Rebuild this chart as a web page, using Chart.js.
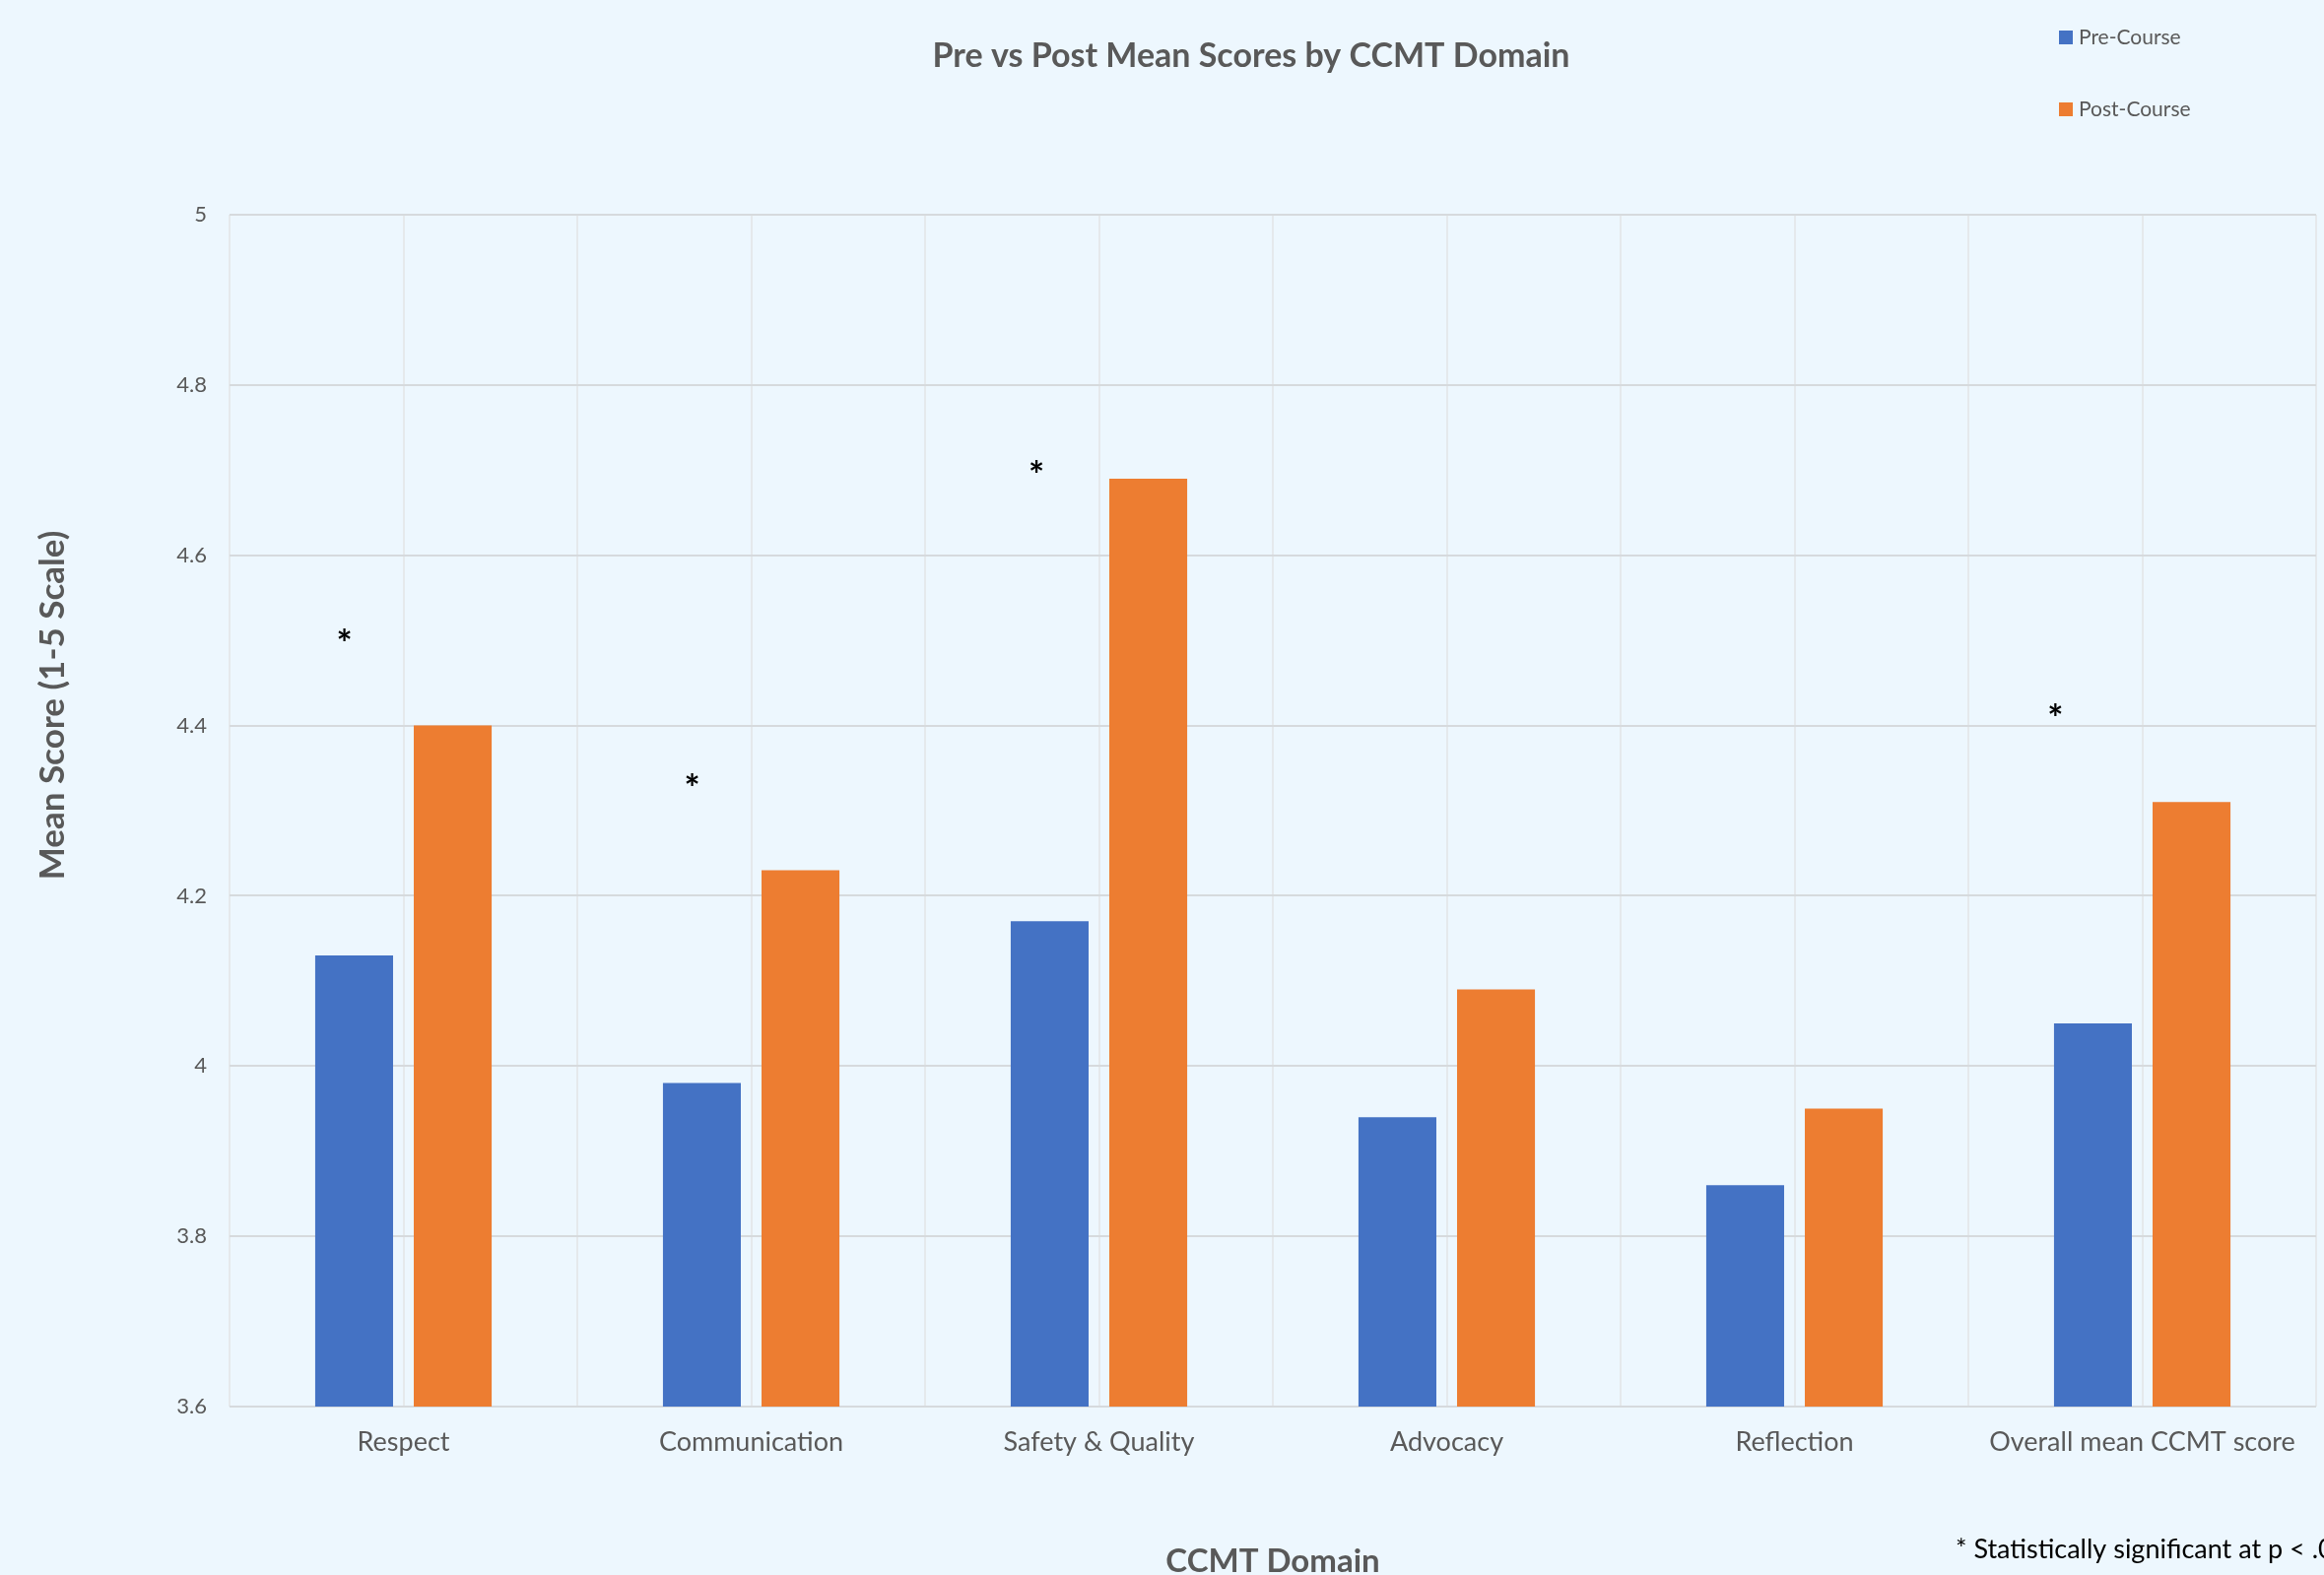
<!DOCTYPE html>
<html>
<head>
<meta charset="utf-8">
<script src="https://cdn.jsdelivr.net/npm/chart.js@4.4.1/dist/chart.umd.min.js"></script>
<style>
  html, body { margin: 0; padding: 0; background: #EDF7FE; overflow: hidden; }
  #wrap { width: 2359px; height: 1599px; position: relative; }
</style>
</head>
<body>
<div id="wrap"><canvas id="c"></canvas></div>
<script>
// ---- data ----
const categories = ['Respect', 'Communication', 'Safety & Quality', 'Advocacy', 'Reflection', 'Overall mean CCMT score'];
const seriesNames = ['Pre-Course', 'Post-Course'];
const preCourse = [4.13, 3.98, 4.17, 3.94, 3.86, 4.05];
const postCourse = [4.40, 4.23, 4.69, 4.09, 3.95, 4.31];
const yTicks = [3.6, 3.8, 4.0, 4.2, 4.4, 4.6, 4.8, 5.0];
const sigCategories = ['Respect', 'Communication', 'Safety & Quality', 'Overall mean CCMT score'];
const sigMarkValue = [4.505, 4.335, 4.703, 4.417];
const titleText = 'Pre vs Post Mean Scores by CCMT Domain';
const xTitleText = 'CCMT Domain';
const yTitleText = 'Mean Score (1-5 Scale)';
const footnoteText = '* Statistically significant at p < .05';

// ---- styles ----
const BG = '#EDF7FE';
const TEXT = '#595959';
const FONT = 'Lato';
const colors = ['#4472C4', '#ED7D31'];

const extras = {
  id: 'extras',
  beforeDraw(chart) {
    const ctx = chart.ctx;
    ctx.save();
    ctx.fillStyle = BG;
    ctx.fillRect(0, 0, chart.width, chart.height);
    ctx.restore();
  },
  afterDraw(chart, args, opts) {
    const ctx = chart.ctx;
    const xs = chart.scales.x, ys = chart.scales.y;
    ctx.save();
    // chart title
    ctx.font = 'bold 34px ' + FONT;
    ctx.fillStyle = TEXT;
    ctx.textAlign = 'center';
    ctx.textBaseline = 'middle';
    ctx.fillText(titleText, 1270, 57);
    // legend (vertical, top-right)
    ctx.font = '21px ' + FONT;
    ctx.textBaseline = 'middle';
    ctx.textAlign = 'left';
    chart.data.datasets.forEach((ds, i) => {
      const top = 31 + i * 73;
      ctx.fillStyle = ds.backgroundColor;
      ctx.fillRect(2090, top, 14, 14);
      ctx.fillStyle = TEXT;
      ctx.fillText(ds.label, 2110, top + 7);
    });
    // y axis title
    ctx.save();
    ctx.translate(54, 716);
    ctx.rotate(-Math.PI / 2);
    ctx.font = 'bold 35px ' + FONT;
    ctx.fillStyle = TEXT;
    ctx.textAlign = 'center';
    ctx.textBaseline = 'middle';
    ctx.fillText(yTitleText, 0, 0);
    ctx.restore();
    // significance marks
    const catW = xs.width / categories.length;
    const starSize = 38;
    ctx.font = 'bold ' + starSize + 'px ' + FONT;
    ctx.fillStyle = '#000000';
    ctx.textAlign = 'center';
    ctx.textBaseline = 'alphabetic';
    sigCategories.forEach((c, i) => {
      const idx = categories.indexOf(c);
      const px = xs.getPixelForValue(idx) + opts.sigOffsets[i] * catW;
      const py = ys.getPixelForValue(sigMarkValue[i]);
      ctx.fillText('*', px, py + 0.56 * starSize);
    });
    // footnote
    ctx.font = '27px ' + FONT;
    ctx.fillStyle = '#000000';
    ctx.textAlign = 'left';
    ctx.fillText(footnoteText, 1985, 1582);
    ctx.restore();
  }
};

new Chart(document.getElementById('c'), {
  type: 'bar',
  data: {
    labels: categories,
    datasets: [
      { label: seriesNames[0], data: preCourse, backgroundColor: colors[0], categoryPercentage: 0.567, barPercentage: 0.79 },
      { label: seriesNames[1], data: postCourse, backgroundColor: colors[1], categoryPercentage: 0.567, barPercentage: 0.79 }
    ]
  },
  options: {
    responsive: true,
    maintainAspectRatio: false,
    animation: false,
    devicePixelRatio: 1,
    layout: { padding: { left: 0, right: 8, top: 218, bottom: 0 } },
    plugins: {
      legend: { display: false },
      tooltip: { enabled: false },
      title: { display: false },
      extras: { sigOffsets: [-0.17, -0.17, -0.18, -0.25] }
    },
    scales: {
      x: {
        type: 'category',
        position: 'bottom',
        offset: true,
        grid: { display: true, offset: true, color: '#E5E9EC', lineWidth: 2, drawTicks: false },
        border: { display: false },
        ticks: { color: TEXT, font: { family: FONT, size: 27 }, padding: 20, maxRotation: 0, autoSkip: false },
        title: {
          display: true, text: xTitleText, color: TEXT,
          font: { family: FONT, size: 33, weight: 'bold', lineHeight: 1.2 },
          padding: { top: 4, bottom: -6 }
        },
        afterFit(s) { s.height = 171; }
      },
      xc: {
        type: 'category',
        position: 'bottom',
        labels: categories,
        offset: true,
        grid: { display: true, offset: false, color: '#E5E9EC', lineWidth: 2, drawTicks: false },
        border: { display: false },
        ticks: { display: false },
        afterFit(s) { s.height = 0; }
      },
      y: {
        type: 'linear',
        min: 3.6,
        max: 5,
        grid: { color: '#D6DADD', lineWidth: 2, drawTicks: false },
        border: { display: false },
        ticks: {
          color: TEXT,
          font: { family: FONT, size: 22 },
          padding: 23,
          callback: v => String(Math.round(v * 10) / 10)
        },
        afterBuildTicks(s) { s.ticks = yTicks.map(v => ({ value: v })); },
        afterFit(s) { s.width = 233; }
      }
    }
  },
  plugins: [extras]
});
</script>
</body>
</html>
